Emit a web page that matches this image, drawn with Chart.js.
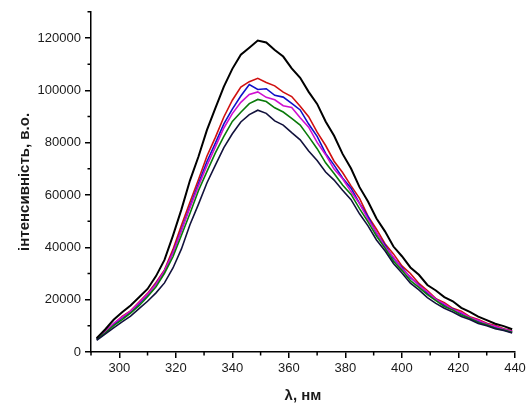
<!DOCTYPE html>
<html>
<head>
<meta charset="utf-8">
<title>Спектри флуоресценції</title>
<script src="https://cdn.jsdelivr.net/npm/chart.js@4/dist/chart.umd.min.js"></script>
<style>
  html, body { margin: 0; padding: 0; background: #fff; }
  #wrap { width: 529px; height: 405px; }
</style>
</head>
<body>
<div id="wrap"><canvas id="spectra" width="529" height="405"></canvas></div>
<script>
// довжини хвиль, нм
const wavelengths = [292, 295, 298, 301, 304, 307, 310, 313, 316, 319,
  322, 325, 328, 331, 334, 337, 340, 343, 346, 349,
  352, 355, 358, 361, 364, 367, 370, 373, 376, 379,
  382, 385, 388, 391, 394, 397, 400, 403, 406, 409,
  412, 415, 418, 421, 424, 427, 430, 433, 436, 439];

const seriesBlack = [5300, 8600, 12300, 15200, 17800, 20900, 24100, 29000, 35200, 44500,
  54500, 65500, 74600, 84800, 93200, 101400, 108200, 113600, 116300, 119000,
  118300, 115400, 112900, 108400, 104800, 99400, 94800, 88100, 82600, 75700,
  70100, 63000, 57500, 51000, 46100, 40300, 36600, 32300, 29500, 25600,
  23500, 21000, 19400, 16900, 15300, 13500, 12200, 10800, 9900, 8700];

const seriesRed = [5000, 7900, 10700, 13600, 15700, 19100, 22400, 26600, 31400, 39200,
  48400, 57200, 65800, 74800, 82000, 89800, 96200, 101200, 103300, 104600,
  103000, 101700, 99300, 97600, 93900, 89900, 84000, 78900, 72900, 68600,
  63500, 58700, 51900, 46900, 41400, 37500, 32900, 30000, 26200, 23500,
  20400, 18800, 16700, 15600, 13500, 12400, 11000, 10100, 8900, 8100];

const seriesBlue = [5000, 7500, 10400, 13100, 15200, 18500, 21900, 26100, 30900, 38100,
  46800, 55600, 64300, 72700, 79800, 87200, 92800, 97800, 102200, 100300,
  100600, 98100, 97400, 95000, 92500, 87100, 82400, 75900, 71400, 66500,
  62600, 56800, 51700, 45300, 40900, 35800, 32300, 28400, 25700, 22400,
  20200, 17900, 16400, 14700, 13200, 11700, 10700, 9400, 8700, 7700];

const seriesMagenta = [5200, 7800, 10900, 13300, 15600, 18800, 22100, 25900, 31100, 37900,
  46400, 55100, 63400, 71200, 78400, 85600, 91100, 95400, 98400, 99400,
  97300, 96400, 94100, 93400, 89500, 85900, 80100, 75400, 69900, 66200,
  61300, 56700, 50800, 45700, 40200, 36300, 31800, 28700, 25400, 23000,
  20100, 18400, 16200, 15100, 13200, 12100, 10700, 9800, 8700, 7900];

const seriesGreen = [4800, 7200, 10100, 12400, 14900, 17700, 21100, 24900, 30100, 36400,
  44600, 52900, 61600, 68900, 76100, 82400, 88100, 91600, 94900, 96500,
  95700, 93300, 91700, 89300, 86700, 82300, 77700, 72300, 68200, 63800,
  60200, 54800, 49700, 44300, 39700, 34800, 31200, 27300, 24700, 21900,
  19600, 17400, 16000, 14100, 12900, 11300, 10400, 9100, 8400, 7500];

const seriesNavy = [4500, 6800, 9200, 11500, 13700, 16600, 19400, 22600, 26400, 32100,
  39400, 48600, 56400, 64600, 71400, 78100, 83400, 87900, 90700, 92400,
  91200, 88300, 86700, 83800, 81100, 76800, 73200, 68800, 65700, 61800,
  58200, 52800, 48200, 42800, 38700, 33800, 30200, 26300, 23700, 20800,
  18600, 16700, 15300, 13600, 12400, 10900, 10000, 8900, 8200, 7300];

const xTicks = [300, 320, 340, 360, 380, 400, 420, 440];
const xMinor = [290, 310, 330, 350, 370, 390, 410, 430];
const yTicks = [0, 20000, 40000, 60000, 80000, 100000, 120000];
const yMinor = [10000, 30000, 50000, 70000, 90000, 110000, 130000];

const FONT = "'Liberation Sans', Arial, sans-serif";

function toPoints(values) {
  return values.map((v, i) => ({ x: wavelengths[i], y: v }));
}

// короткі проміжні риски на осях
const minorTicks = {
  id: 'minorTicks',
  afterDraw(chart) {
    const { ctx, scales: { x, y } } = chart;
    ctx.save();
    ctx.strokeStyle = '#000';
    ctx.lineWidth = 1.5;
    ctx.beginPath();
    xMinor.forEach(v => {
      const px = x.getPixelForValue(v);
      ctx.moveTo(px, x.top);
      ctx.lineTo(px, x.top + 3.5);
    });
    yMinor.forEach(v => {
      const py = y.getPixelForValue(v);
      ctx.moveTo(y.right, py);
      ctx.lineTo(y.right - 3.5, py);
    });
    ctx.stroke();
    ctx.restore();
  }
};

const line = (data, color, width) => ({
  data: toPoints(data),
  borderColor: color,
  borderWidth: width,
  pointRadius: 0,
  tension: 0,
  fill: false
});

new Chart(document.getElementById('spectra'), {
  type: 'line',
  data: {
    datasets: [
      line(seriesBlack, '#000000', 2),
      line(seriesNavy, '#12123c', 1.6),
      line(seriesGreen, '#0a7a0a', 1.6),
      line(seriesMagenta, '#d010d0', 1.6),
      line(seriesBlue, '#1010c8', 1.6),
      line(seriesRed, '#d01010', 1.6)
    ]
  },
  options: {
    responsive: false,
    animation: false,
    layout: { padding: { top: 10, right: 14, left: 0, bottom: 0 } },
    plugins: { legend: { display: false }, tooltip: { enabled: false } },
    scales: {
      x: {
        type: 'linear',
        min: 290,
        max: 440,
        afterBuildTicks: axis => { axis.ticks = xTicks.map(v => ({ value: v })); },
        afterFit: axis => { axis.height = 53; },
        grid: { drawOnChartArea: false, color: '#000', lineWidth: 1.5, tickLength: 6 },
        border: { color: '#000', width: 1.5 },
        ticks: { color: '#1a1a1a', font: { family: FONT, size: 13 }, padding: 3, maxRotation: 0,
                 callback: v => String(v) },
        title: {
          display: true,
          text: 'λ, нм',
          color: '#1a1a1a',
          font: { family: FONT, size: 15, weight: 'bold' },
          padding: { top: 0, bottom: 0 }
        }
      },
      y: {
        min: 0,
        max: 130000,
        afterBuildTicks: axis => { axis.ticks = yTicks.map(v => ({ value: v })); },
        afterFit: axis => { axis.width = 91; },
        grid: { drawOnChartArea: false, color: '#000', lineWidth: 1.5, tickLength: 6 },
        border: { color: '#000', width: 1.5 },
        ticks: { color: '#1a1a1a', font: { family: FONT, size: 13 }, padding: 4,
                 callback: v => String(v) },
        title: {
          display: true,
          text: 'інтенсивність, в.о.',
          color: '#1a1a1a',
          font: { family: FONT, size: 15, weight: 'bold' },
          padding: { top: 16, bottom: 0 }
        }
      }
    }
  },
  plugins: [minorTicks]
});
</script>
</body>
</html>
